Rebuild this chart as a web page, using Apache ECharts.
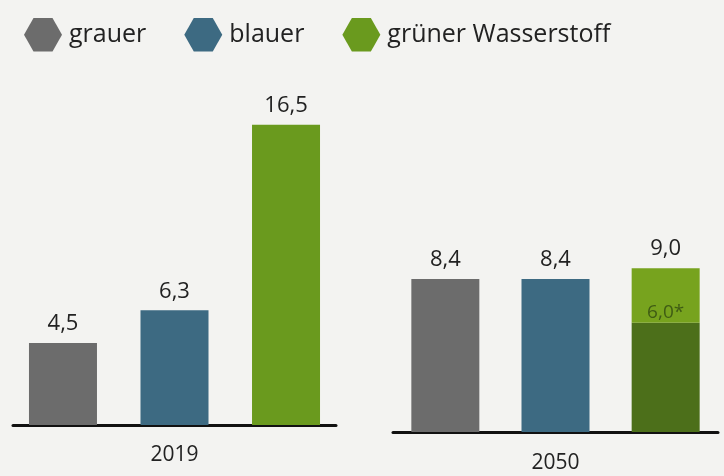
<!DOCTYPE html>
<html>
<head>
<meta charset="utf-8">
<script src="https://cdn.jsdelivr.net/npm/echarts@6/dist/echarts.min.js"></script>
<style>
  html, body { margin: 0; padding: 0; background: #f3f3f1; }
  #chart { width: 724px; height: 476px; }
</style>
</head>
<body>
<div id="chart"></div>
<script>
  // Werte aus der Grafik (Kosten je Jahr)
  var years = ['2019', '2050']
  var grauer = [4.5, 8.4]
  var blauer = [6.3, 8.4]
  var gruener = [16.5, 9.0]
  var gruenerBasis2050 = 6.0

  var hexagon = 'path://M0,50 L25,6 L75,6 L100,50 L75,94 L25,94 Z'
  var font = '"Open Sans", sans-serif'

  function fmt (v) {
    return v.toFixed(1).replace('.', ',')
  }

  var valueLabel = {
    show: true,
    position: 'top',
    distance: 8,
    color: '#222',
    fontSize: 22,
    fontFamily: font,
    formatter: function (p) { return fmt(p.value) }
  }

  var chart = echarts.init(document.getElementById('chart'))
  var option = {
    backgroundColor: '#f3f3f1',
    animation: false,
    legend: {
      left: 19,
      top: 13,
      itemWidth: 38,
      itemHeight: 34,
      itemGap: 38,
      icon: hexagon,
      textStyle: { fontSize: 25, color: '#222', fontFamily: font, padding: [0, 0, 0, 2] },
      data: ['grauer', 'blauer', 'grüner Wasserstoff']
    },
    grid: [
      { left: 13, right: 388, top: 61, bottom: 51 },
      { left: 393, right: 6, top: 68, bottom: 44 }
    ],
    xAxis: [
      {
        type: 'category', gridIndex: 0, data: [years[0]],
        axisLine: { lineStyle: { color: '#111', width: 3 } },
        axisTick: { show: false },
        axisLabel: { color: '#222', fontSize: 21, fontFamily: font, margin: 20 }
      },
      {
        type: 'category', gridIndex: 1, data: [years[1]],
        axisLine: { lineStyle: { color: '#111', width: 3 } },
        axisTick: { show: false },
        axisLabel: { color: '#222', fontSize: 21, fontFamily: font, margin: 21 }
      }
    ],
    yAxis: [
      { type: 'value', gridIndex: 0, min: 0, max: 20, show: false },
      { type: 'value', gridIndex: 1, min: 0, max: 20, show: false }
    ],
    series: [
      {
        name: 'grauer', type: 'bar', xAxisIndex: 0, yAxisIndex: 0,
        barWidth: 68, barGap: '64%',
        itemStyle: { color: '#6c6c6c' }, label: valueLabel,
        data: [grauer[0]]
      },
      {
        name: 'blauer', type: 'bar', xAxisIndex: 0, yAxisIndex: 0,
        barWidth: 68, barGap: '64%',
        itemStyle: { color: '#3d6a82' }, label: valueLabel,
        data: [blauer[0]]
      },
      {
        name: 'grüner Wasserstoff', type: 'bar', xAxisIndex: 0, yAxisIndex: 0,
        barWidth: 68, barGap: '64%',
        itemStyle: { color: '#6a9a1e' }, label: valueLabel,
        data: [gruener[0]]
      },
      {
        name: 'grauer', type: 'bar', xAxisIndex: 1, yAxisIndex: 1,
        barWidth: 68, barGap: '62%',
        itemStyle: { color: '#6c6c6c' }, label: valueLabel,
        data: [grauer[1]]
      },
      {
        name: 'blauer', type: 'bar', xAxisIndex: 1, yAxisIndex: 1,
        barWidth: 68, barGap: '62%',
        itemStyle: { color: '#3d6a82' }, label: valueLabel,
        data: [blauer[1]]
      },
      {
        name: 'grüner Wasserstoff', type: 'bar', xAxisIndex: 1, yAxisIndex: 1,
        barWidth: 68, barGap: '62%', stack: 'gruen2050',
        itemStyle: { color: '#4c6f1a' },
        label: {
          show: true, position: 'top', distance: 1, color: '#3f5c14',
          fontSize: 19, fontFamily: font,
          formatter: function (p) { return fmt(p.value) + '*' }
        },
        data: [gruenerBasis2050]
      },
      {
        name: 'grüner Wasserstoff', type: 'bar', xAxisIndex: 1, yAxisIndex: 1,
        barWidth: 68, barGap: '62%', stack: 'gruen2050',
        itemStyle: { color: '#77a31e' },
        label: {
          show: true, position: 'top', distance: 8, color: '#222',
          fontSize: 22, fontFamily: font,
          formatter: function () { return fmt(gruener[1]) }
        },
        data: [gruener[1] - gruenerBasis2050]
      }
    ]
  }
  chart.setOption(option)
</script>
</body>
</html>
